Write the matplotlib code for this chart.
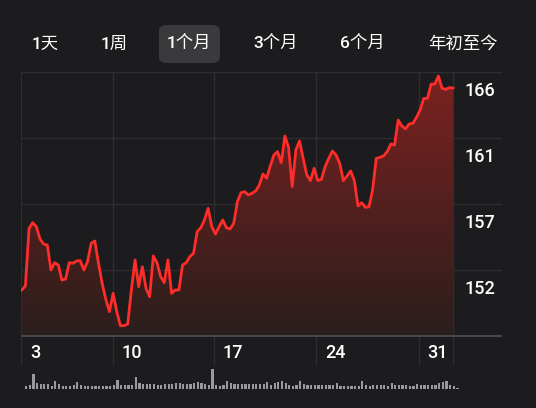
import numpy as np
import matplotlib
matplotlib.use("Agg")
import matplotlib.pyplot as plt
from matplotlib.patches import FancyBboxPatch
from matplotlib.colors import LinearSegmentedColormap

plt.rcParams['font.family'] = ['Roboto', 'Noto Sans CJK SC', 'DejaVu Sans']

tabs = ["1天", "1周", "1个月", "3个月", "6个月", "年初至今"]
prices = [151.11,151.39,155.40,155.80,155.52,154.66,154.31,154.24,152.50,153.01,
          152.85,151.80,151.87,153.01,152.97,153.13,153.15,152.50,153.08,154.36,
          154.52,152.97,151.57,150.46,149.60,150.87,149.60,148.62,148.62,148.74,
          151.11,153.20,151.34,152.73,151.22,150.64,153.48,153.01,152.04,151.62,
          153.20,150.87,151.11,151.11,152.85,153.01,153.43,153.66,155.17,155.45,
          155.99,156.80,155.52,155.01,155.52,155.99,155.45,155.36,155.75,157.26,
          157.89,157.96,157.73,157.84,158.01,158.42,159.19,158.89,159.75,160.52,
          160.75,159.98,161.84,161.05,158.31,160.86,161.49,160.28,159.12,158.73,
          159.59,158.73,158.82,159.70,160.28,160.79,160.52,159.93,158.73,159.05,
          159.40,158.73,156.96,157.19,156.87,156.90,158.08,160.28,160.35,160.45,
          160.75,161.28,161.21,162.95,162.54,162.33,162.68,162.72,163.14,163.65,
          164.46,164.46,165.46,165.46,166.02,165.16,165.09,165.21,165.18]
volumes = [3,4,15,6,5,5,5,3,8,5,3,3,3,4,7,4,3,3,3,3,
           3,3,3,3,4,9,4,4,4,4,12,6,5,5,5,5,4,4,5,5,
           5,6,6,5,5,5,6,7,6,5,4,20,4,3,4,8,6,5,5,5,
           5,5,5,5,5,5,7,4,6,7,8,6,4,3,4,8,5,4,4,4,
           4,4,4,4,4,6,3,3,3,3,3,3,8,4,3,4,4,4,4,3,
           6,4,4,4,4,3,3,5,4,4,4,4,4,6,7,8,4,3,1]
x_labels = ["3", "10", "17", "24", "31"]
x_tick_pos = [-0.2, 24.9, 52.6, 80.5, 108.6]
y_labels = ["166", "161", "157", "152"]
y_grid = [166.3, 161.7, 157.1, 152.5]

BG = "#1c1c1e"
W, H = 536, 408
fig = plt.figure(figsize=(W/100, H/100), dpi=100, facecolor=BG)

tab_x = [45, 114, 189, 276, 362, 463]
fig.patches.append(FancyBboxPatch((159/W, 1-63/H), 61/W, 38/H,
                                  boxstyle="round,pad=0,rounding_size=0.015",
                                  transform=fig.transFigure, fc="#3a3a3c", ec="none"))
for t, xp in zip(tabs, tab_x):
    fig.text(xp/W, 1-44/H, t, color="white", fontsize=12.5, ha="center", va="center",
             fontweight="medium")

left, right, top, bottom = 21, 502, 72, 337
ax = fig.add_axes([left/W, 1-bottom/H, (right-left)/W, (bottom-top)/H])
ax.set_facecolor(BG)
n = len(prices)
x = np.arange(n)
ymin, ymax = 147.83, 166.3
xmax = 131.4
ax.set_xlim(-0.2, xmax)
ax.set_ylim(ymin, ymax)
for s in ax.spines.values():
    s.set_visible(False)
ax.set_xticks([]); ax.set_yticks([])
for g in y_grid:
    ax.axhline(g, color="#2e2e30", lw=1, zorder=0)
ax.axhline(ymin + 0.08, color="#48484a", lw=1.5, zorder=3)
for xp in x_tick_pos[1:] + [n-1]:
    ax.axvline(xp, color="#2e2e30", lw=1, zorder=0)
ax.axvline(-0.2, color="#2e2e30", lw=1.5, zorder=0)

grad = np.linspace(0, 1, 256).reshape(-1, 1)
cmap = LinearSegmentedColormap.from_list("g", ["#2a1e1c", "#7c2220"])
im = ax.imshow(grad, extent=[0, n-1, ymin, ymax], origin="lower", aspect="auto",
               cmap=cmap, zorder=1)
poly = ax.fill_between(x, prices, ymin, color="none")
im.set_clip_path(poly.get_paths()[0], transform=ax.transData)
ax.plot(x, prices, color="#ff2d2a", lw=2, zorder=4, solid_joinstyle="round")

for lab, g in zip(y_labels, y_grid):
    ax.annotate(lab, (1, g), xycoords=("axes fraction", "data"), xytext=(-38, -19),
                textcoords="offset pixels", color="white", fontsize=13,
                ha="left", va="center", annotation_clip=False, fontweight="medium")
for lab, xp in zip(x_labels, x_tick_pos):
    ax.annotate(lab, (xp, 0), xycoords=("data", "axes fraction"), xytext=(9, -16),
                textcoords="offset pixels", color="white", fontsize=13,
                ha="left", va="center", annotation_clip=False, fontweight="medium")
for xp in x_tick_pos + [n-1]:
    ax.plot([xp, xp], [0, -0.1], transform=ax.get_xaxis_transform(),
            color="#2e2e30", lw=1, clip_on=False, zorder=0)

vax = fig.add_axes([left/W, 1-389/H, (right-left)/W, 22/H])
vax.set_facecolor("none")
vax.axis("off")
vax.set_xlim(-0.2, xmax)
vax.set_ylim(0, 22)
vax.bar(x + 1.2, volumes, width=0.6, color="#9a9a9e")

fig.savefig("out.png", dpi=100, facecolor=BG)
